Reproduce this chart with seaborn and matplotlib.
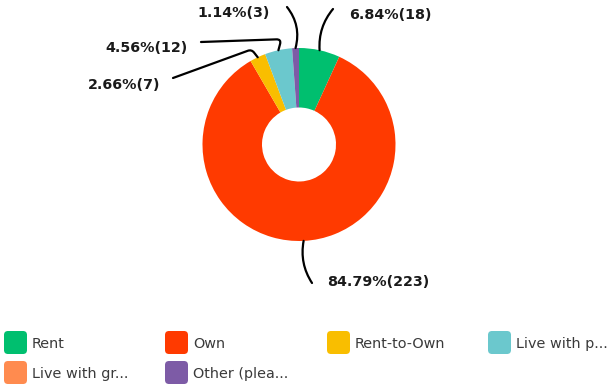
import numpy as np
import matplotlib
matplotlib.use("Agg")
import matplotlib.pyplot as plt
import seaborn as sns
from matplotlib.patches import FancyBboxPatch

# ---- data ----
categories = ["Rent", "Own", "Rent-to-Own", "Live with p...", "Live with gr...", "Other (plea..."]
counts = [18, 223, 7, 12, 0, 3]
colors = ["#00BF6F", "#FF3A00", "#F9BE00", "#6BC8CD", "#FF8B4F", "#7D5BA6"]

sns.set_theme(style="white")
plt.rcParams['font.family'] = ['DejaVu Sans']

W, H = 611, 386
fig = plt.figure(figsize=(W / 100, H / 100), dpi=100)
fig.patch.set_facecolor("white")

# donut axes (layout in pixels)
cx, cy, R, r_in = 299, 144.5, 96.5, 37.0
ax = fig.add_axes([(cx - R) / W, (H - cy - R) / H, 2 * R / W, 2 * R / H])
palette = sns.color_palette(colors)
wedges, _ = ax.pie(counts, colors=palette, startangle=90, counterclock=False,
                   radius=1, wedgeprops=dict(width=1 - r_in / R, linewidth=0))
ax.set_xlim(-1, 1)
ax.set_ylim(-1, 1)
ax.set_aspect('auto')
ax.axis('off')

# overlay axes in image-pixel coordinates
ov = fig.add_axes([0, 0, 1, 1])
ov.set_xlim(0, W)
ov.set_ylim(H, 0)
ov.axis('off')
ov.patch.set_alpha(0)

total = sum(counts)
layout = {
    0: dict(text=(349, 15), ha='left', end=(333, 9), conn='arc3,rad=0.2'),
    1: dict(text=(327, 282), ha='left', end=(312, 283), conn='arc3,rad=-0.2'),
    2: dict(text=(160, 85), ha='right', end=(173, 78), conn='angle,angleA=20,angleB=128,rad=4'),
    3: dict(text=(188, 48), ha='right', end=(201, 42), conn='angle,angleA=2,angleB=75,rad=5'),
    5: dict(text=(270, 13), ha='right', end=(287, 7), conn='arc3,rad=-0.25'),
}

for i, w in enumerate(wedges):
    if counts[i] == 0 or i not in layout:
        continue
    L = layout[i]
    mid = np.deg2rad((w.theta1 + w.theta2) / 2)
    p = (np.cos(mid), np.sin(mid))
    ov.annotate('', xy=p, xycoords=ax.transData, xytext=L['end'], textcoords='data',
                arrowprops=dict(arrowstyle='-', color='black', lw=1.6,
                                connectionstyle=L['conn'], shrinkA=0, shrinkB=0))
    pct = counts[i] / total * 100
    ov.text(L['text'][0], L['text'][1], f"{pct:.2f}%({counts[i]})", ha=L['ha'], va='center',
            fontsize=10.3, fontweight='bold', color='#1a1a1a')

# legend
col_x = [4, 165, 327, 488]
row_y = [331, 361]
sq = 23
for i, (cat, col) in enumerate(zip(categories, palette)):
    x = col_x[i % 4]
    y = row_y[i // 4]
    ov.add_patch(FancyBboxPatch((x, y), sq, sq, boxstyle="round,pad=0,rounding_size=4",
                                facecolor=col, edgecolor='none'))
    ov.text(x + 28, y + sq / 2 + 1.5, cat, ha='left', va='center', fontsize=10.4,
            color='#3a3a3a')

fig.savefig("out.png", dpi=100, facecolor="white")
